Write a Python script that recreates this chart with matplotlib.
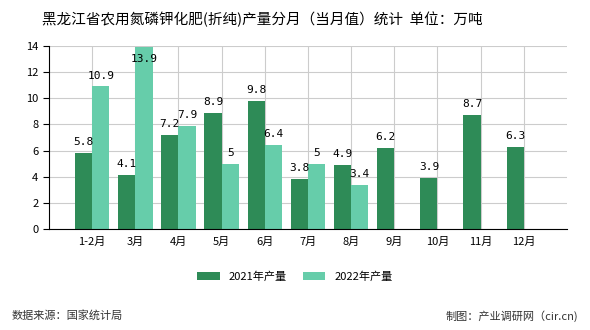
import matplotlib.pyplot as plt
import numpy as np

plt.rcParams['font.family'] = ['Noto Sans CJK SC', 'DejaVu Sans']

months = ['1-2月', '3月', '4月', '5月', '6月', '7月', '8月', '9月', '10月', '11月', '12月']
prod_2021 = [5.8, 4.1, 7.2, 8.9, 9.8, 3.8, 4.9, 6.2, 3.9, 8.7, 6.3]
prod_2022 = [10.9, 13.9, 7.9, 5, 6.4, 5, 3.4]

c21 = '#2e8b57'
c22 = '#66cdaa'

fig = plt.figure(figsize=(5.9, 3.3), dpi=100)
ax = fig.add_axes([0.083, 0.306, 0.878, 0.555])

x = np.arange(len(months))
w = 0.4
b1 = ax.bar(x - w / 2, prod_2021, w, color=c21, label='2021年产量', zorder=2)
b2 = ax.bar(x[:len(prod_2022)] + w / 2, prod_2022, w, color=c22, label='2022年产量', zorder=2)

for rect, v in zip(b1, prod_2021):
    ax.text(rect.get_x() + rect.get_width() / 2, v + 0.45, f'{v:g}', ha='center', va='bottom',
            fontsize=8, family='DejaVu Sans Mono', zorder=3)
for rect, v in zip(b2, prod_2022):
    ax.text(rect.get_x() + rect.get_width() / 2, v + 0.45 if v < 13 else v - 1.3, f'{v:g}',
            ha='center', va='bottom', fontsize=8, family='DejaVu Sans Mono', zorder=3)

ax.set_xlim(-1, 11)
ax.set_ylim(0, 14)
ax.set_yticks(range(0, 15, 2))
ax.set_xticks(x)
ax.set_xticklabels(months, fontsize=8)
ax.tick_params(axis='y', labelsize=8, length=4)
ax.tick_params(axis='x', length=0, pad=6)
ax.grid(True, color='#cccccc', linewidth=0.8, zorder=0)
for s in ['top', 'right']:
    ax.spines[s].set_visible(False)
ax.spines['left'].set_color('black')
ax.spines['bottom'].set_color('black')

fig.text(0.445, 0.94, '黑龙江省农用氮磷钾化肥(折纯)产量分月（当月值）统计  单位：万吨',
         ha='center', va='center', fontsize=10.5, fontweight='medium')
fig.legend(handles=[b1, b2], loc='center', bbox_to_anchor=(0.5, 0.163), ncol=2, frameon=False,
           fontsize=8, handlelength=2.0, handleheight=0.75, columnspacing=1.5)
fig.text(0.02, 0.043, '数据来源：国家统计局', fontsize=8, color='#333333', va='center')
fig.text(0.98, 0.043, '制图：产业调研网（cir.cn)', fontsize=8, color='#333333', va='center', ha='right')

fig.savefig('out.png', dpi=100)
